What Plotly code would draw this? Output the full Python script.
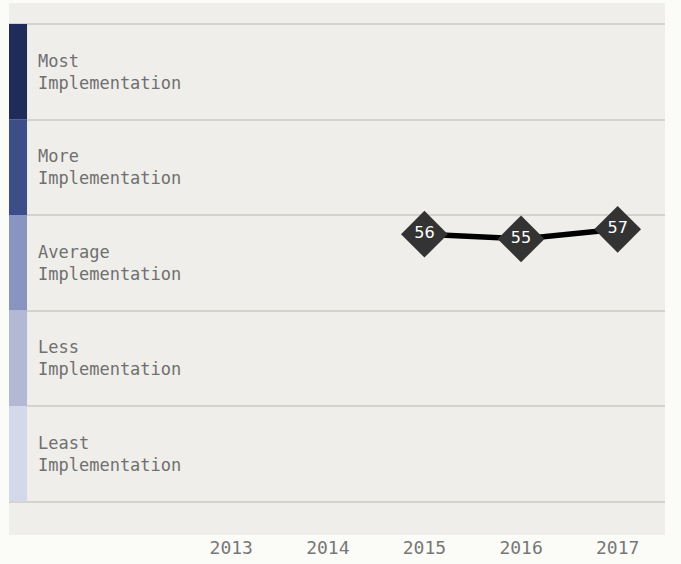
"""
Implementation level by year, drawn over five shaded bands.
"""

import plotly.graph_objects as go

YEARS = [2013, 2014, 2015, 2016, 2017]
SCORE_YEARS = [2015, 2016, 2017]
SCORES = [56, 55, 57]

BAND_LABELS = [
    "Most<br>Implementation",
    "More<br>Implementation",
    "Average<br>Implementation",
    "Less<br>Implementation",
    "Least<br>Implementation",
]
BAND_EDGES = [100, 80, 60, 40, 20, 0]
BAND_COLOURS = ["#1f2b59", "#3c4d8a", "#8994c0", "#b3b8d4", "#d3d8ea"]

BAR_WIDTH = 18 / 655  # share of the plot width used by the colour strip
FONT = "DejaVu Sans Mono"

fig = go.Figure()

fig.add_trace(
    go.Scatter(
        x=SCORE_YEARS,
        y=SCORES,
        mode="lines+markers+text",
        line=dict(color="#000000", width=5.5),
        marker=dict(symbol="diamond", size=36, color="#333333"),
        text=[str(v) for v in SCORES],
        textposition="middle center",
        textfont=dict(family="DejaVu Sans", size=16, color="#ffffff"),
        hoverinfo="skip",
        showlegend=False,
    )
)

for label, top, bottom, colour in zip(
    BAND_LABELS, BAND_EDGES[:-1], BAND_EDGES[1:], BAND_COLOURS
):
    fig.add_shape(
        type="rect",
        xref="paper",
        yref="y",
        x0=0,
        x1=BAR_WIDTH,
        y0=bottom,
        y1=top,
        fillcolor=colour,
        line_width=0,
        layer="above",
    )
    fig.add_annotation(
        xref="paper",
        yref="y",
        x=BAR_WIDTH + 0.013,
        y=(top + bottom) / 2,
        text=label,
        showarrow=False,
        xanchor="left",
        yanchor="middle",
        align="left",
        font=dict(family=FONT, size=17, color="#707070"),
    )

fig.update_layout(
    width=681,
    height=564,
    margin=dict(l=9, r=16, t=3, b=29),
    paper_bgcolor="#fbfbf7",
    plot_bgcolor="#efeeea",
    xaxis=dict(
        range=[2010.7, 2017.49],
        tickvals=YEARS,
        ticktext=[str(y) for y in YEARS],
        showgrid=False,
        zeroline=False,
        showline=False,
        ticks="",
        tickfont=dict(family=FONT, size=18, color="#777777"),
    ),
    yaxis=dict(
        range=[-7.0, 104.4],
        tickvals=BAND_EDGES,
        showticklabels=False,
        gridcolor="#d3d2cd",
        gridwidth=1.5,
        zeroline=False,
        showline=False,
        ticks="",
    ),
)

fig.write_html(
    "out.html",
    config={"displayModeBar": False},
    post_script="document.body.style.margin = '0';",
)
